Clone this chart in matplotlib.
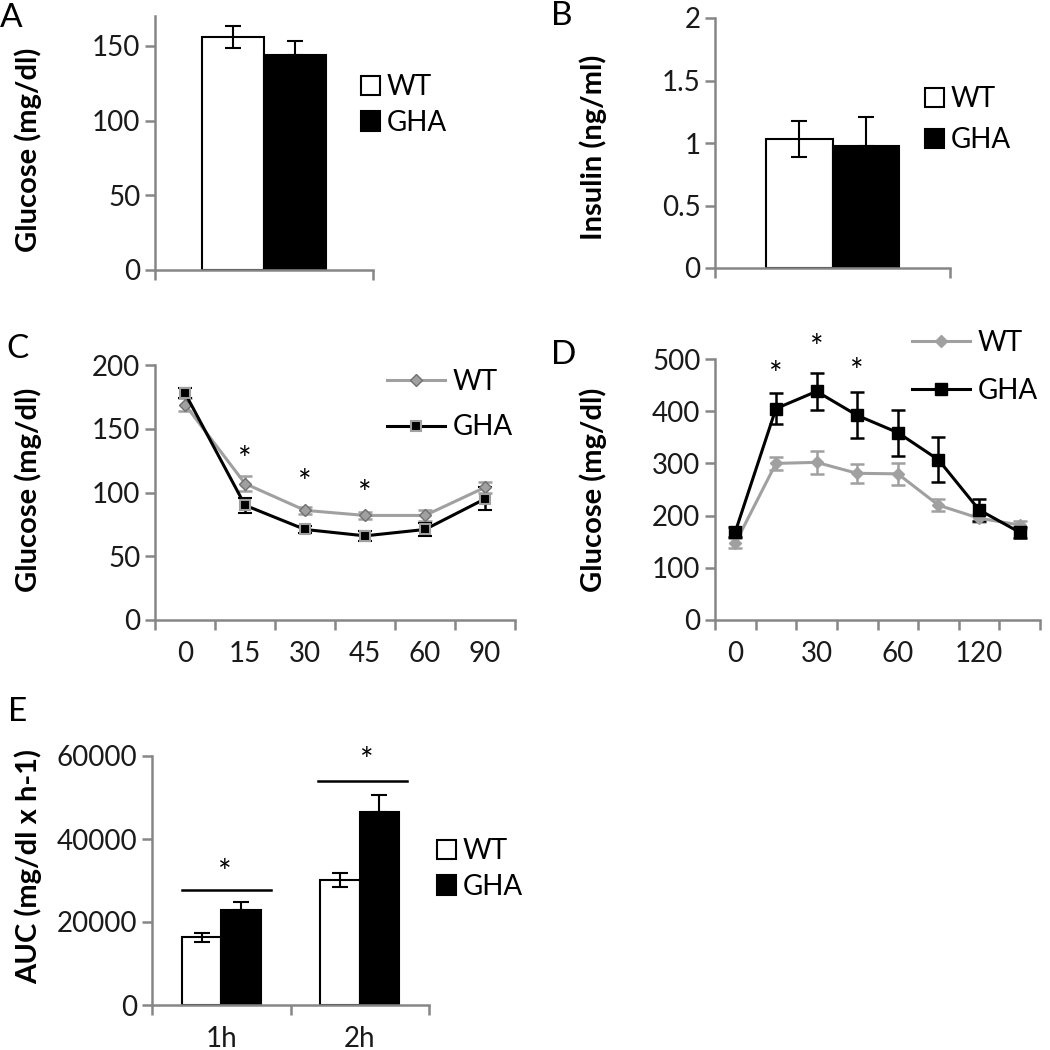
import matplotlib
matplotlib.use("Agg")
import matplotlib.pyplot as plt
from matplotlib.patches import Patch
from matplotlib.lines import Line2D

plt.rcParams["font.family"] = ["Lato", "DejaVu Sans"]

# Panel A - fasting glucose
glu_wt, glu_wt_err = 156, 7.5
glu_gha, glu_gha_err = 144, 9

# Panel B - insulin
ins_wt, ins_wt_err = 1.03, 0.145
ins_gha, ins_gha_err = 0.98, 0.23

# Panel C - insulin tolerance test
itt_times = ["0", "15", "30", "45", "60", "90"]
itt_wt = [169, 107, 86, 82, 82, 104]
itt_wt_err = [5, 6, 3, 3, 4, 4]
itt_gha = [178, 90, 71, 66, 71, 95]
itt_gha_err = [4, 6, 3, 4, 5, 9]
itt_stars = [1, 2, 3]
itt_star_y = [125, 107, 98]

# Panel D - glucose tolerance test
gtt_times = ["0", "15", "30", "45", "60", "90", "120", "150"]
gtt_wt = [147, 300, 302, 281, 280, 220, 195, 182]
gtt_wt_err = [10, 13, 22, 18, 21, 12, 8, 8]
gtt_gha = [169, 405, 438, 392, 359, 307, 211, 168]
gtt_gha_err = [10, 29, 36, 44, 44, 43, 21, 10]
gtt_stars = [1, 2, 3]
gtt_star_y = [467, 520, 473]

# Panel E - AUC
auc_groups = ["1h", "2h"]
auc_wt = [16300, 30100]
auc_wt_err = [1000, 1700]
auc_gha = [22900, 46500]
auc_gha_err = [2000, 4200]
auc_sig_y = [27800, 54000]
auc_sig_x = [(0.214, 0.857), (1.199, 1.841)]
auc_star_x = [0.527, 1.55]
auc_star_y = [31500, 58500]

W = H = 1050
fig = plt.figure(figsize=(10.5, 10.5), dpi=100)

AXC = "#868686"
LGRAY = "#a0a0a0"
TICK_FS = 20
LAB_FS = 21
LEG_FS = 20


def make_ax(x0, y0, x1, y1):
    ax = fig.add_axes([x0 / W, 1 - y1 / H, (x1 - x0) / W, (y1 - y0) / H])
    for s in ["top", "right"]:
        ax.spines[s].set_visible(False)
    for s in ["left", "bottom"]:
        ax.spines[s].set_color(AXC)
        ax.spines[s].set_linewidth(1.8)
    ax.tick_params(axis="both", colors=AXC, width=1.8, length=7,
                   labelsize=TICK_FS, labelcolor="#1a1a1a")
    ax.tick_params(axis="x", which="minor", length=0, labelsize=TICK_FS,
                   labelcolor="#1a1a1a", pad=15)
    return ax


def ylabel(ax, text, x, y):
    ax.set_ylabel(text, fontsize=LAB_FS, fontweight="bold")
    ax.yaxis.set_label_coords(x / W, 1 - y / H, transform=fig.transFigure)


def bar_legend(x, y, spacing):
    handles = [Patch(facecolor="white", edgecolor="black", linewidth=1.5, label="WT"),
               Patch(facecolor="black", edgecolor="black", linewidth=1.5, label="GHA")]
    fig.legend(handles=handles, loc="upper left", bbox_to_anchor=(x / W, 1 - y / H),
               frameon=False, fontsize=LEG_FS, handlelength=0.68, handleheight=0.68,
               handletextpad=0.25, labelspacing=spacing, borderpad=0, borderaxespad=0)


def line_legend(x, y, wt_kw, gha_kw, spacing):
    handles = [Line2D([], [], label="WT", **wt_kw),
               Line2D([], [], label="GHA", **gha_kw)]
    fig.legend(handles=handles, loc="upper left", bbox_to_anchor=(x / W, 1 - y / H),
               frameon=False, fontsize=LEG_FS, handlelength=2.1,
               handletextpad=0.25, labelspacing=spacing, borderpad=0, borderaxespad=0)


def letter(t, x, y):
    fig.text(x / W, 1 - y / H, t, fontsize=24, ha="left", va="center")


BW = 0.285

# ---- A ----
ax = make_ax(155, 16, 373, 270)
ax.bar(0.5 - BW / 2, glu_wt, BW, color="white", edgecolor="black", linewidth=1.5)
ax.bar(0.5 + BW / 2, glu_gha, BW, color="black", edgecolor="black", linewidth=1.5)
ax.errorbar(0.5 - BW / 2, glu_wt, yerr=glu_wt_err, fmt="none", ecolor="black",
            elinewidth=1.5, capsize=6, capthick=1.5)
ax.errorbar(0.5 + BW / 2, glu_gha, yerr=[[0], [glu_gha_err]], fmt="none", ecolor="black",
            elinewidth=1.5, capsize=6, capthick=1.5)
ax.set_xlim(0, 1)
ax.set_ylim(0, 170)
ax.set_yticks([0, 50, 100, 150])
ax.set_xticks([0, 1])
ax.set_xticklabels([])
ylabel(ax, "Glucose (mg/dl)", 42, 150)
bar_legend(361, 74, 0.35)
letter("A", 0, 18)

# ---- B ----
ax = make_ax(715, 18, 950, 268)
ax.bar(0.5 - BW / 2, ins_wt, BW, color="white", edgecolor="black", linewidth=1.5)
ax.bar(0.5 + BW / 2, ins_gha, BW, color="black", edgecolor="black", linewidth=1.5)
ax.errorbar(0.5 - BW / 2, ins_wt, yerr=ins_wt_err, fmt="none", ecolor="black",
            elinewidth=1.5, capsize=6, capthick=1.5)
ax.errorbar(0.5 + BW / 2, ins_gha, yerr=[[0], [ins_gha_err]], fmt="none", ecolor="black",
            elinewidth=1.5, capsize=6, capthick=1.5)
ax.set_xlim(0, 1)
ax.set_ylim(0, 2)
ax.set_yticks([0, 0.5, 1, 1.5, 2])
ax.set_yticklabels(["0", "0.5", "1", "1.5", "2"])
ax.set_xticks([0, 1])
ax.set_xticklabels([])
ylabel(ax, "Insulin (ng/ml)", 607, 147)
bar_legend(925, 86, 0.55)
letter("B", 551, 16)

# ---- C ----
ax = make_ax(155, 365, 515, 620)
xc = [i + 0.5 for i in range(len(itt_times))]
wt_c = dict(color=LGRAY, linewidth=2.2, marker="D", markersize=6,
            markerfacecolor=LGRAY, markeredgecolor="#707070")
gha_c = dict(color="black", linewidth=2.2, marker="s", markersize=7,
             markerfacecolor="black", markeredgecolor=LGRAY, markeredgewidth=1.5)
ax.errorbar(xc, itt_wt, yerr=itt_wt_err, ecolor=LGRAY, elinewidth=1.8, capsize=5,
            capthick=1.8, **wt_c)
ax.errorbar(xc, itt_gha, yerr=itt_gha_err, ecolor="black", elinewidth=1.8, capsize=5,
            capthick=1.8, **gha_c)
for i, sy in zip(itt_stars, itt_star_y):
    ax.text(xc[i], sy, "*", ha="center", va="center", fontsize=23)
ax.set_xlim(0, len(itt_times))
ax.set_ylim(0, 200)
ax.set_yticks([0, 50, 100, 150, 200])
ax.set_xticks(range(len(itt_times) + 1))
ax.set_xticklabels([])
ax.set_xticks(xc, minor=True)
ax.set_xticklabels(itt_times, minor=True)
ylabel(ax, "Glucose (mg/dl)", 42, 490)
line_legend(387, 369, wt_c, gha_c, 0.7)
letter("C", 6, 349)

# ---- D ----
ax = make_ax(715, 359, 1040, 620)
xd = [i + 0.5 for i in range(len(gtt_times))]
wt_d = dict(color=LGRAY, linewidth=2.2, marker="D", markersize=6,
            markerfacecolor=LGRAY, markeredgecolor=LGRAY)
gha_d = dict(color="black", linewidth=2.2, marker="s", markersize=9,
             markerfacecolor="black", markeredgecolor="black")
ax.errorbar(xd, gtt_wt, yerr=gtt_wt_err, ecolor=LGRAY, elinewidth=1.8, capsize=5,
            capthick=1.8, **wt_d)
ax.errorbar(xd, gtt_gha, yerr=gtt_gha_err, ecolor="black", elinewidth=1.8, capsize=5,
            capthick=1.8, **gha_d)
for i, sy in zip(gtt_stars, gtt_star_y):
    ax.text(xd[i], sy, "*", ha="center", va="center", fontsize=23)
ax.set_xlim(0, len(gtt_times))
ax.set_ylim(0, 500)
ax.set_yticks([0, 100, 200, 300, 400, 500])
ax.set_xticks(range(len(gtt_times) + 1))
ax.set_xticklabels([])
ax.set_xticks(xd[::2], minor=True)
ax.set_xticklabels(gtt_times[::2], minor=True)
ylabel(ax, "Glucose (mg/dl)", 607, 490)
line_legend(912, 330, wt_d, gha_d, 0.8)
letter("D", 551, 355)

# ---- E ----
ax = make_ax(152, 756, 429, 1005)
xe = [i + 0.5 for i in range(len(auc_groups))]
ax.bar([x - BW / 2 for x in xe], auc_wt, BW, color="white", edgecolor="black", linewidth=1.5)
ax.bar([x + BW / 2 for x in xe], auc_gha, BW, color="black", edgecolor="black", linewidth=1.5)
ax.errorbar([x - BW / 2 for x in xe], auc_wt, yerr=auc_wt_err, fmt="none", ecolor="black",
            elinewidth=1.5, capsize=6, capthick=1.5)
ax.errorbar([x + BW / 2 for x in xe], auc_gha, yerr=[[0] * len(auc_gha), auc_gha_err],
            fmt="none", ecolor="black", elinewidth=1.5, capsize=6, capthick=1.5)
for (xa, xb), sy, sx, st in zip(auc_sig_x, auc_sig_y, auc_star_x, auc_star_y):
    ax.plot([xa, xb], [sy, sy], color="black", linewidth=1.8, clip_on=False)
    ax.text(sx, st, "*", ha="center", va="center", fontsize=23)
ax.set_xlim(0, len(auc_groups))
ax.set_ylim(0, 60000)
ax.set_yticks([0, 20000, 40000, 60000])
ax.set_xticks(range(len(auc_groups) + 1))
ax.set_xticklabels([])
ax.set_xticks(xe, minor=True)
ax.set_xticklabels(auc_groups, minor=True)
ylabel(ax, "AUC (mg/dl x h-1)", 42, 867)
bar_legend(437, 838, 0.35)
letter("E", 8, 712)

fig.savefig("out.png", dpi=100)
